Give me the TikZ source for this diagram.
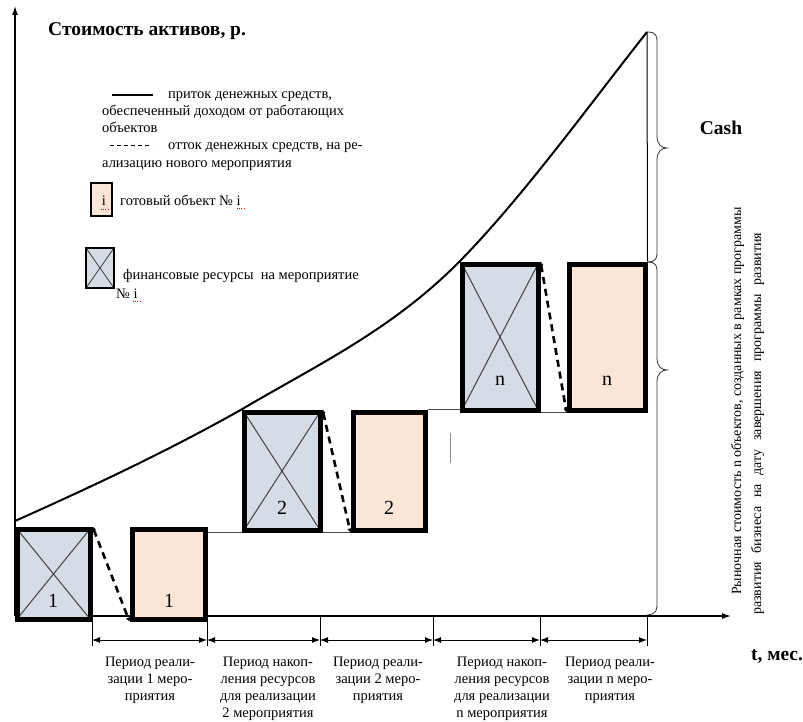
\documentclass[tikz,border=0pt]{standalone}
\usepackage{fontspec}
\setmainfont{Liberation Serif}
\usetikzlibrary{arrows.meta}
\definecolor{boxblue}{HTML}{D6DCE5}
\definecolor{boxpeach}{HTML}{FBE5D6}
\begin{document}
\begin{tikzpicture}[x=1pt,y=-1pt,
  fin/.style={draw=black, line width=5pt, fill=boxblue, inner sep=0pt,
    path picture={\draw[line width=1pt, black!75] (path picture bounding box.north west) -- (path picture bounding box.south east) (path picture bounding box.north east) -- (path picture bounding box.south west);}},
  obj/.style={draw=black, line width=5pt, fill=boxpeach, inner sep=0pt},
  lfin/.style={draw=black, line width=1.5pt, fill=boxblue, inner sep=0pt,
    path picture={\draw[line width=0.8pt, black!75] (path picture bounding box.north west) -- (path picture bounding box.south east) (path picture bounding box.north east) -- (path picture bounding box.south west);}},
  lobj/.style={draw=black, line width=1.5pt, fill=boxpeach, inner sep=0pt},
  txt/.style={font=\fontsize{14.5}{16.9}\selectfont, inner sep=0pt},
  rtxt/.style={font=\fontsize{14}{16}\selectfont, inner sep=0pt},
  btxt/.style={font=\fontsize{19.5}{22}\selectfont\bfseries, inner sep=0pt},
  num/.style={font=\fontsize{20}{22}\selectfont, inner sep=0pt},
  axis/.style={line width=1.2pt, -{Latex[length=9pt,width=6pt]}},
  thin/.style={line width=0.8pt, black!70},
  flow/.style={line width=2.6pt, dash pattern=on 7pt off 5pt, {Triangle[length=4pt,width=4pt]}-{Triangle[length=4pt,width=4pt]}},
  period/.style={line width=1pt, {Latex[length=8pt,width=6pt]}-{Latex[length=8pt,width=6pt]}},
  tick/.style={line width=1pt},
  brace/.style={line width=0.8pt, black!80},
  squig/.style={red, line width=1pt, dash pattern=on 1pt off 1.2pt}
]
\useasboundingbox (0,0) rectangle (803,722);

% axes
\coordinate (O) at (15,616);
\coordinate (ytop) at (15,6);
\coordinate (xend) at (731,616);
\draw[axis] (O) -- (ytop);
\draw[axis] (O) -- (xend);

% boxes
\node[fin, minimum width=73pt, minimum height=90pt] (b1) at (53.5,574) {};
\node[obj, minimum width=73pt, minimum height=90pt] (p1) at (168.5,574) {};
\node[fin, minimum width=76pt, minimum height=118pt] (b2) at (282,471) {};
\node[obj, minimum width=72pt, minimum height=118pt] (p2) at (389,471) {};
\node[fin, minimum width=76pt, minimum height=146pt] (bn) at (500,337) {};
\node[obj, minimum width=76pt, minimum height=146pt] (pn) at (607,337) {};

\node[num] (l1) at (53,601) {1};
\node[num] (l1p) at (169,601) {1};
\node[num] (l2) at (282,508) {2};
\node[num] (l2p) at (389,508) {2};
\node[num] (ln) at (500,381) {n};
\node[num] (lnp) at (607,381) {n};

% thin connecting lines
\draw[thin] (p1.east |- b2.south) -- (b2.south west);
\draw[thin] (b2.south east) -- (p2.south west);
\draw[thin] (p2.north east) -- (p2.north east -| bn.west);
\draw[thin] (bn.south east) -- (pn.south west);
\coordinate (s1) at (450,433);
\coordinate (s2) at (450,463);
\draw[line width=0.6pt, black!45] (s1) -- (s2);

% dashed outflows
\draw[flow] (b1.north east) -- (p1.south west);
\draw[flow] (b2.north east) -- (p2.south west);
\draw[flow] (bn.north east) -- (pn.south west);

% inflow curve
\coordinate (c0) at (15,521);
\coordinate (top) at (647,32);
\draw[line width=2pt] (c0) .. controls (91,487) and (166,452) .. (b2.north west)
  .. controls (315,366) and (392,330) .. (bn.north west)
  .. controls (522,198) and (587,108) .. (top);
\draw[line width=1pt] (top) -- (pn.north east);

% braces
\draw[brace] (647,32) .. controls (657,32) and (657,36) .. (657,44) -- (657,136) .. controls (657,145) and (662,148) .. (667,148) .. controls (662,148) and (657,151) .. (657,160) -- (657,250) .. controls (657,258) and (657,262) .. (647,262);
\draw[brace] (647,262) .. controls (657,262) and (657,266) .. (657,274) -- (657,358) .. controls (657,367) and (662,370) .. (667,370) .. controls (662,370) and (657,373) .. (657,382) -- (657,602) .. controls (657,610) and (657,614) .. (647,615);

% ticks and periods
\foreach \n/\x in {0/92,1/207,2/320,3/433,4/540,5/647}{
  \coordinate (t\n) at (\x,616);
  \coordinate (u\n) at (\x,646);
  \coordinate (a\n) at (\x,640);
}
\foreach \n in {0,...,5}{ \draw[tick] (t\n) -- (u\n); }
\foreach \n/\m in {0/1,1/2,2/3,3/4,4/5}{ \draw[period] (a\n) -- (a\m); }

\node[txt, align=center, anchor=north] (per1) at (150,657) {Период реали-\\зации 1 меро-\\приятия};
\node[txt, align=center, anchor=north] (per2) at (268,657) {Период накоп-\\ления ресурсов\\для реализации\\2 мероприятия};
\node[txt, align=center, anchor=north] (per3) at (378,657) {Период реали-\\зации 2 меро-\\приятия};
\node[txt, align=center, anchor=north] (per4) at (502,657) {Период накоп-\\ления ресурсов\\для реализации\\n мероприятия};
\node[txt, align=center, anchor=north] (per5) at (610,657) {Период реали-\\зации n меро-\\приятия};

% axis labels
\node[btxt, anchor=base west] (ylab) at (48,36) {Стоимость активов, р.};
\node[btxt] (xlab) at (777,657) {t, мес.};
\node[btxt] (cash) at (721,128) {Cash};
\node[rtxt, rotate=90, anchor=base west] (mv1) at (741,595) {Рыночная стоимость n объектов, созданных в рамках программы};
\node[rtxt, rotate=90, anchor=base west] (mv2) at (761,615) {\makebox[382pt][s]{развития бизнеса на дату завершения программы развития}};

% legend
\coordinate (ls1) at (112,95);
\coordinate (ls2) at (153,95);
\draw[line width=1.3pt] (ls1) -- (ls2);
\node[txt, anchor=base west] (lg1) at (168,99) {приток денежных средств,};
\node[txt, anchor=base west] (lg2) at (102,116) {обеспеченный доходом от работающих};
\node[txt, anchor=base west] (lg3) at (102,133) {объектов};
\coordinate (ld1) at (110,146);
\coordinate (ld2) at (152,146);
\draw[line width=1pt, dash pattern=on 4pt off 3pt] (ld1) -- (ld2);
\node[txt, anchor=base west] (lg4) at (168,150) {отток денежных средств, на ре-};
\node[txt, anchor=base west] (lg5) at (102,168) {ализацию нового мероприятия};

\node[lobj, minimum width=21pt, minimum height=33pt] (lgp) at (101.5,199.5) {};
\node[txt, anchor=base] (lgpi) at (104,206) {i};
\draw[squig] (101,210) -- (108,210);
\node[txt, anchor=base west] (lg6) at (120,206) {готовый объект № i};
\draw[squig] (237,209) -- (244,209);

\node[lfin, minimum width=28pt, minimum height=40pt] (lgb) at (100,268) {};
\node[txt, anchor=base west] (lg7) at (123,279) {финансовые ресурсы\ \ на мероприятие};
\node[txt, anchor=base west] (lg8) at (116,298) {№ i};
\draw[squig] (133,301) -- (140,301);
\end{tikzpicture}
\end{document}
